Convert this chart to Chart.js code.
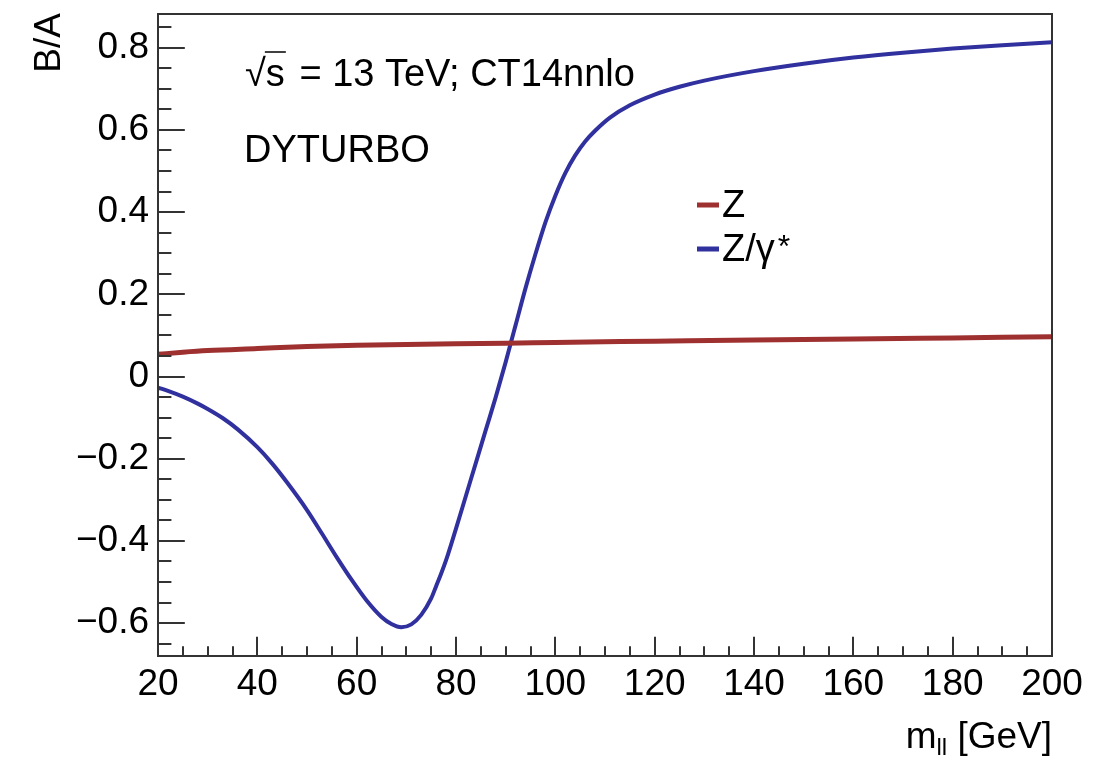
<!DOCTYPE html>
<html>
<head>
<meta charset="utf-8">
<script src="https://cdn.jsdelivr.net/npm/chart.js@4.4.1/dist/chart.umd.min.js"></script>
<style>
  html, body { margin: 0; padding: 0; background: #fff; }
  #wrap { width: 1115px; height: 758px; }
</style>
</head>
<body>
<div id="wrap"><canvas id="c" width="1115" height="758"></canvas></div>
<script>
// Axis tick values
const xTickValues = [20, 40, 60, 80, 100, 120, 140, 160, 180, 200];
const yTickValues = [-0.6, -0.4, -0.2, 0, 0.2, 0.4, 0.6, 0.8];

// B/A ratio versus dilepton mass, Z only
const massZ  = [20, 25, 30, 40, 50, 60, 70, 80, 90, 100, 120, 140, 160, 180, 200];
const ratioZ = [0.054, 0.059, 0.063, 0.068, 0.073, 0.076, 0.078, 0.080, 0.081, 0.083, 0.086, 0.089, 0.091, 0.094, 0.097];

// B/A ratio versus dilepton mass, Z/gamma* interference included
const massZG  = [20, 22, 25, 28, 30, 33, 36, 40, 43, 46, 50, 53, 56, 59, 62, 65, 67, 69, 71, 73, 75, 76, 77, 78, 80, 82, 84, 86, 88, 90, 91, 92, 94, 96, 98, 100, 102, 104, 106, 108, 111, 115, 120, 125, 130, 140, 150, 160, 170, 180, 190, 200];
const ratioZG = [-0.027, -0.035, -0.049, -0.066, -0.079, -0.101, -0.128, -0.172, -0.212, -0.258, -0.325, -0.382, -0.44, -0.495, -0.545, -0.585, -0.602, -0.61, -0.603, -0.58, -0.54, -0.51, -0.48, -0.447, -0.37, -0.29, -0.21, -0.13, -0.05, 0.035, 0.08, 0.125, 0.215, 0.298, 0.375, 0.44, 0.495, 0.538, 0.572, 0.598, 0.63, 0.66, 0.686, 0.705, 0.72, 0.743, 0.761, 0.776, 0.788, 0.798, 0.806, 0.813];

const seriesLabels = ['Z', 'Z/\u03b3'];
const RED = 'rgb(158,48,48)';
const BLUE = 'rgb(48,48,158)';
const FONT = '"Liberation Sans", Arial, Helvetica, sans-serif';

const toPoints = (xs, ys) => xs.map((x, i) => ({ x: x, y: ys[i] }));

function fmtY(v) {
  if (Math.abs(v) < 1e-9) return '0';
  const s = Math.abs(v).toFixed(1);
  return (v < 0 ? '\u2212' : '') + s;
}

// Frame, inward ticks, annotations, legend and axis titles
const decorations = {
  id: 'decorations',
  afterDraw(chart) {
    const ctx = chart.ctx;
    const xs = chart.scales.x, ys = chart.scales.y;
    const a = chart.chartArea;
    ctx.save();
    ctx.strokeStyle = '#333';
    ctx.lineWidth = 2;
    ctx.strokeRect(a.left, a.top, a.right - a.left, a.bottom - a.top);

    const plotW = a.right - a.left, plotH = a.bottom - a.top;
    const xMaj = 0.03 * plotH, yMaj = 0.03 * plotW;
    ctx.beginPath();
    // x ticks: major every 20, minor every 5
    for (let k = 0; k <= 36; k++) {
      const v = xs.min + k * 5;
      const px = Math.round(xs.getPixelForValue(v));
      const len = (k % 4 === 0) ? xMaj : xMaj / 2;
      ctx.moveTo(px, a.bottom);
      ctx.lineTo(px, a.bottom - len);
    }
    // y ticks: major every 0.2, minor every 0.05
    for (let k = -13; k <= 17; k++) {
      const v = k * 0.05;
      if (v < ys.min || v > ys.max) continue;
      const py = Math.round(ys.getPixelForValue(v));
      const len = (k % 4 === 0) ? yMaj : yMaj / 2;
      ctx.moveTo(a.left, py);
      ctx.lineTo(a.left + len, py);
    }
    ctx.stroke();

    // annotation text
    ctx.fillStyle = '#000';
    ctx.textBaseline = 'alphabetic';
    ctx.textAlign = 'left';
    ctx.font = '38px ' + FONT;
    let tx = 245, ty = 86;
    ctx.fillText('\u221a', tx, ty);
    const wr = ctx.measureText('\u221a').width;
    const ws = ctx.measureText('s').width;
    ctx.fillText('s', tx + wr, ty);
    ctx.lineWidth = 1.5;
    ctx.strokeStyle = '#000';
    ctx.beginPath();
    ctx.moveTo(tx + wr - 1, ty - 34);
    ctx.lineTo(tx + wr + ws + 1, ty - 34);
    ctx.stroke();
    ctx.fillText(' = 13 TeV; CT14nnlo', tx + wr + ws + 4, ty);
    ctx.fillText('DYTURBO', 244, 162);

    // legend
    const ds = chart.data.datasets;
    const legY = [205, 249];
    ds.forEach((d, i) => {
      ctx.strokeStyle = d.borderColor;
      ctx.lineWidth = 5;
      ctx.beginPath();
      ctx.moveTo(697, legY[i]);
      ctx.lineTo(719, legY[i]);
      ctx.stroke();
      ctx.fillStyle = '#000';
      ctx.font = '38px ' + FONT;
      ctx.fillText(d.label, 722, legY[i] + 12);
      if (i === 1) {
        const w = ctx.measureText(d.label).width;
        ctx.font = '32px ' + FONT;
        ctx.fillText('*', 722 + w + 3, legY[i] + 8);
      }
    });

    // x-axis title: m_ll [GeV], right aligned at the axis end
    const base = 748;
    ctx.font = '37px ' + FONT;
    const wTail = ctx.measureText(' [GeV]').width;
    const wM = ctx.measureText('m').width;
    ctx.font = '24px ' + FONT;
    const wSub = ctx.measureText('ll').width;
    let x0 = a.right - wTail - wSub - wM;
    ctx.font = '37px ' + FONT;
    ctx.fillText('m', x0, base);
    ctx.font = '24px ' + FONT;
    ctx.fillText('ll', x0 + wM, base + 7);
    ctx.font = '37px ' + FONT;
    ctx.fillText(' [GeV]', x0 + wM + wSub, base);

    // y-axis title, rotated, right aligned at the top
    ctx.translate(60, 13);
    ctx.rotate(-Math.PI / 2);
    ctx.textAlign = 'right';
    ctx.font = '37px ' + FONT;
    ctx.fillText('B/A', 0, 0);
    ctx.restore();
  }
};

new Chart(document.getElementById('c'), {
  type: 'line',
  data: {
    datasets: [
      { label: seriesLabels[0], data: toPoints(massZ, ratioZ), borderColor: RED, borderWidth: 5,
        pointRadius: 0, cubicInterpolationMode: 'monotone', fill: false },
      { label: seriesLabels[1], data: toPoints(massZG, ratioZG), borderColor: BLUE, borderWidth: 4,
        pointRadius: 0, cubicInterpolationMode: 'monotone', fill: false }
    ]
  },
  options: {
    responsive: false,
    animation: false,
    devicePixelRatio: 1,
    layout: { padding: { top: 14, right: 63, left: 0, bottom: 0 } },
    plugins: { legend: { display: false }, tooltip: { enabled: false } },
    scales: {
      x: {
        type: 'linear', min: 20, max: 200,
        grid: { display: false, drawTicks: false },
        border: { display: false },
        afterBuildTicks: s => { s.ticks = xTickValues.map(v => ({ value: v })); },
        afterFit: s => { s.height = 102; s.paddingLeft = 0; s.paddingRight = 0; },
        ticks: { color: '#000', padding: 7, maxRotation: 0, autoSkip: false,
                 font: { family: FONT, size: 37 }, callback: v => String(v) }
      },
      y: {
        type: 'linear', min: -0.68, max: 0.882,
        grid: { display: false, drawTicks: false },
        border: { display: false },
        afterBuildTicks: s => { s.ticks = yTickValues.map(v => ({ value: v })); },
        afterFit: s => { s.width = 158; s.paddingTop = 0; s.paddingBottom = 0; },
        ticks: { color: '#000', padding: 9, autoSkip: false,
                 font: { family: FONT, size: 37 }, callback: v => fmtY(v) }
      }
    }
  },
  plugins: [decorations]
});
</script>
</body>
</html>
